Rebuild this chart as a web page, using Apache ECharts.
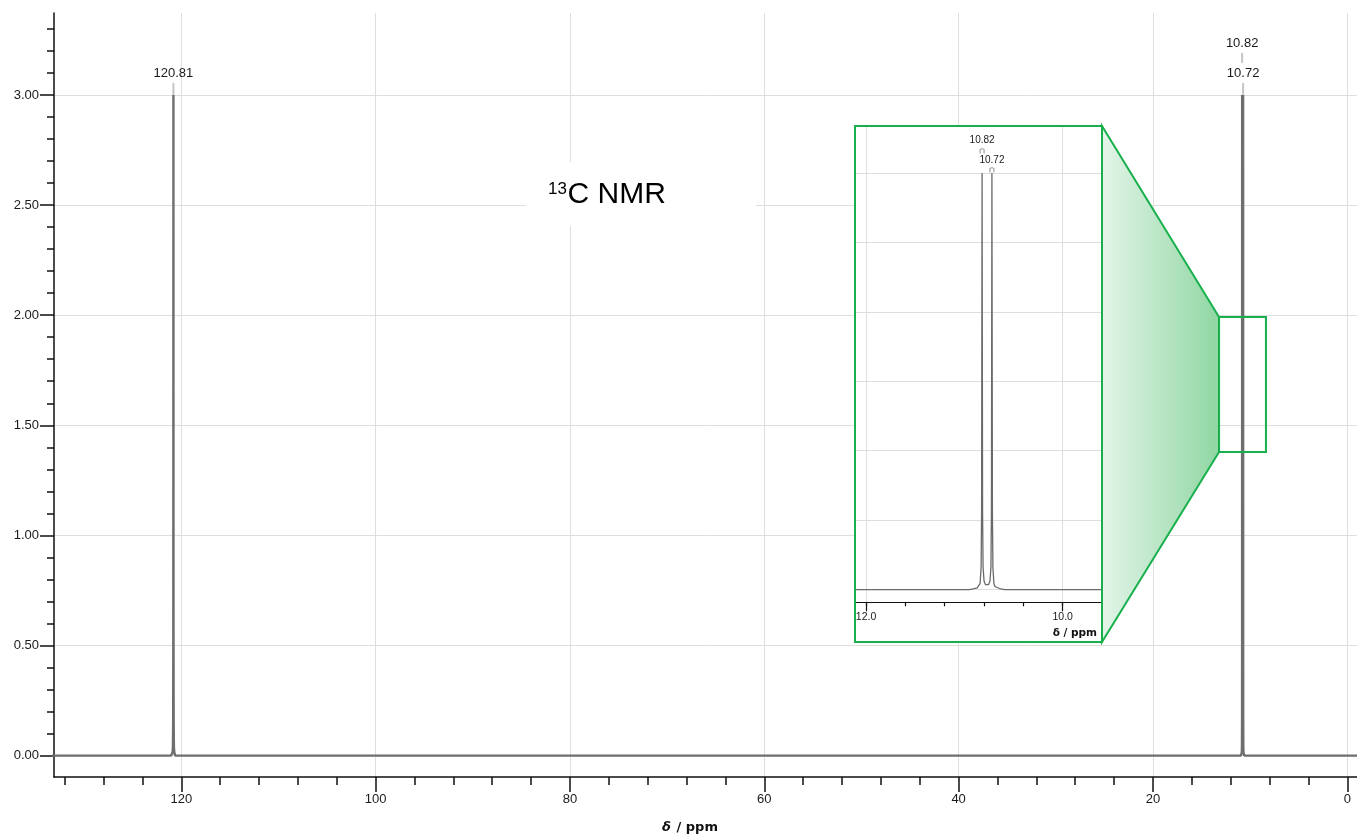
<!DOCTYPE html>
<html><head><meta charset="utf-8">
<script src="https://cdn.jsdelivr.net/npm/echarts@6/dist/echarts.min.js"></script>
<style>html,body{margin:0;padding:0;background:#fff}#c{width:1357px;height:838px}</style>
</head><body><div id="c"></div>
<script>
// ---------------- DATA ----------------
const spectrumPpm = [135, 121.05, 120.95, 120.90, 120.86, 120.835, 120.82, 120.81, 120.80, 120.785, 120.76, 120.72, 120.62,
  10.95, 10.91, 10.87, 10.85, 10.84, 10.83, 10.825, 10.82, 10.815, 10.81, 10.80, 10.785, 10.77, 10.755, 10.74, 10.73,
  10.725, 10.72, 10.715, 10.71, 10.70, 10.69, 10.67, 10.63, 10.59, -2];
const spectrumIntensity = [0, 0, 0.005, 0.015, 0.04, 0.16, 0.55, 3.0, 0.55, 0.16, 0.04, 0.015, 0,
  0, 0.004, 0.012, 0.022, 0.045, 0.16, 0.55, 3.0, 0.55, 0.16, 0.06, 0.035, 0.03, 0.035, 0.06, 0.16,
  0.55, 3.0, 0.55, 0.16, 0.045, 0.022, 0.012, 0.004, 0, 0];
const peakPpm = [120.81, 10.82, 10.72];
const peakIntensity = [3.0, 3.0, 3.0];
const peakLabels = ['120.81', '10.82', '10.72'];
const zoomBoxPpm = [13.2, 8.37];
const zoomBoxIntensity = [1.379, 1.992];
const titleSup = '13';
const titleMain = 'C NMR';
const axisTitleSymbol = 'δ';
const axisTitleUnit = ' / ppm';

// ---------------- LAYOUT ----------------
const W = 1357, H = 838;
const FONT = '"Liberation Sans", Arial, sans-serif';
const GREEN = '#17b04c';
const GRID_C = '#dedede';
const AX_C = '#111';
const main = {left: 54, right: 1357, top: 13, bottom: 777, xMin: -1.0, xMax: 133.1, yMin: -0.097, yMax: 3.372};
const inset = {left: 856, right: 1101, top: 127, bottom: 602.3, xMin: 9.611, xMax: 12.102, yMin: -0.092, yMax: 3.332};
function px(g, v) { return g.right - (v - g.xMin) / (g.xMax - g.xMin) * (g.right - g.left); }
function py(g, v) { return g.bottom - (v - g.yMin) / (g.yMax - g.yMin) * (g.bottom - g.top); }
function gridFor(g, x0, x1, y0, y1) {
  return {left: px(g, x1), right: W - px(g, x0), top: py(g, y1), bottom: H - py(g, y0)};
}
const full = g => ({left: g.left, right: W - g.right, top: g.top, bottom: H - g.bottom});

const grids = [
  full(main),                                        // 0 main series
  gridFor(main, main.xMin, main.xMax, 0, 3),         // 1 y major
  gridFor(main, main.xMin, main.xMax, 0, 3.3),       // 2 y minor
  gridFor(main, 0, 120, main.yMin, main.yMax),       // 3 x major
  gridFor(main, 0, 132, main.yMin, main.yMax),       // 4 x minor
  full(inset),                                       // 5 inset series
  gridFor(inset, 10, 12, inset.yMin, inset.yMax),    // 6 inset x minor
  gridFor(inset, 10, 12, inset.yMin, inset.yMax),    // 7 inset x major
  gridFor(inset, inset.xMin, inset.xMax, 0, 3)       // 8 inset y grid lines
];

const hidden = (i) => ({type: 'value', gridIndex: i, show: false, min: 0, max: 1});
const tickStyle = {color: AX_C, width: 1.5};
const labelStyle = (size, fmt, margin) => ({show: true, fontFamily: FONT, fontSize: size, color: '#1a1a1a', margin: margin, formatter: fmt});

const xAxis = [
  {type: 'value', gridIndex: 0, inverse: true, min: main.xMin, max: main.xMax,
   axisLine: {show: true, onZero: false, lineStyle: {color: AX_C, width: 1.5}}, axisTick: {show: false}, axisLabel: {show: false}, splitLine: {show: false}},
  hidden(1), hidden(2),
  {type: 'value', gridIndex: 3, inverse: true, min: 0, max: 120, interval: 20,
   axisLine: {show: false, onZero: false}, axisTick: {show: true, length: 15, lineStyle: tickStyle},
   axisLabel: labelStyle(13, v => String(Math.round(v)), 16),
   splitLine: {show: true, lineStyle: {color: GRID_C, width: 1}}},
  {type: 'value', gridIndex: 4, inverse: true, min: 0, max: 132, interval: 4,
   axisLine: {show: false, onZero: false}, axisTick: {show: true, length: 8, lineStyle: tickStyle},
   axisLabel: {show: false}, splitLine: {show: false}},
  {type: 'value', gridIndex: 5, inverse: true, min: inset.xMin, max: inset.xMax, z: 10,
   axisLine: {show: true, onZero: false, lineStyle: {color: AX_C, width: 1.2}}, axisTick: {show: false}, axisLabel: {show: false}, splitLine: {show: false}},
  {type: 'value', gridIndex: 6, inverse: true, min: 10, max: 12, interval: 0.4, z: 10,
   axisLine: {show: false, onZero: false}, axisTick: {show: true, length: 4, lineStyle: {color: AX_C, width: 1.2}},
   axisLabel: {show: false}, splitLine: {show: false}},
  {type: 'value', gridIndex: 7, inverse: true, min: 10, max: 12, interval: 2, z: 10,
   axisLine: {show: false, onZero: false}, axisTick: {show: true, length: 9, lineStyle: {color: AX_C, width: 1.2}},
   axisLabel: labelStyle(10.5, v => v.toFixed(1), 9),
   splitLine: {show: true, lineStyle: {color: GRID_C, width: 1}}},
  Object.assign(hidden(8), {z: 10})
];

const yAxis = [
  {type: 'value', gridIndex: 0, min: main.yMin, max: main.yMax,
   axisLine: {show: true, onZero: false, lineStyle: {color: AX_C, width: 1.5}}, axisTick: {show: false}, axisLabel: {show: false}, splitLine: {show: false}},
  {type: 'value', gridIndex: 1, min: 0, max: 3, interval: 0.5,
   axisLine: {show: false}, axisTick: {show: true, length: 14, lineStyle: tickStyle},
   axisLabel: labelStyle(13, v => v.toFixed(2), 15),
   splitLine: {show: true, lineStyle: {color: GRID_C, width: 1}}},
  {type: 'value', gridIndex: 2, min: 0, max: 3.3, interval: 0.1,
   axisLine: {show: false}, axisTick: {show: true, length: 7, lineStyle: tickStyle},
   axisLabel: {show: false}, splitLine: {show: false}},
  hidden(3), hidden(4),
  {type: 'value', gridIndex: 5, min: inset.yMin, max: inset.yMax, show: false},
  hidden(6), hidden(7),
  {type: 'value', gridIndex: 8, min: 0, max: 3, interval: 0.5, z: 10,
   axisLine: {show: false}, axisTick: {show: false}, axisLabel: {show: false},
   splitLine: {show: true, lineStyle: {color: GRID_C, width: 1}}}
];

const spectrum = spectrumPpm.map((x, i) => [x, spectrumIntensity[i]]);

// stacking level of a peak label: number of lower-ppm peaks closer than 1 ppm
function peakItems(filter) {
  const items = [];
  peakPpm.forEach((p, i) => {
    if (!filter(p)) return;
    const level = peakPpm.filter(q => q < p && p - q < 1).length;
    items.push({value: [p, peakIntensity[i], level], name: peakLabels[i]});
  });
  return items;
}

function mainLabels(params, api) {
  const p = api.coord([api.value(0), api.value(1)]);
  const level = api.value(2);
  const name = peakLabels[peakPpm.indexOf(api.value(0))];
  const ty = p[1] - 22 - level * 30;
  const l0 = level ? ty + 10 : p[1] - 12;
  const l1 = level ? ty + 20 : p[1];
  return {type: 'group', children: [
    {type: 'line', shape: {x1: p[0], y1: l0, x2: p[0], y2: l1}, style: {stroke: '#c4c4c4', lineWidth: 2}},
    {type: 'text', style: {text: name, x: p[0], y: ty, align: 'center', verticalAlign: 'middle', font: '13px ' + FONT, fill: '#1a1a1a'}}
  ]};
}
function insetLabels(params, api) {
  const p = api.coord([api.value(0), api.value(1)]);
  const level = api.value(2);
  const name = peakLabels[peakPpm.indexOf(api.value(0))];
  const ty = p[1] - 13 - level * 19.4;
  const fy = p[1] - 5.5 - level * 19;
  return {type: 'group', children: [
    {type: 'polyline', shape: {points: [[p[0] - 2, fy + 5], [p[0] - 2, fy + 1], [p[0], fy], [p[0] + 2, fy + 1], [p[0] + 2, fy + 5]]},
     style: {stroke: '#a0a0a0', lineWidth: 1.2, fill: null}},
    {type: 'text', style: {text: name, x: p[0], y: ty, align: 'center', verticalAlign: 'middle', font: '10px ' + FONT, fill: '#1a1a1a'}}
  ]};
}

const boxL = px(main, zoomBoxPpm[0]), boxT = py(main, zoomBoxIntensity[1]), boxB = py(main, zoomBoxIntensity[0]);
const insetBox = {x: 855, y: 126, w: 247, h: 516};

const option = {
  animation: false,
  backgroundColor: '#fff',
  grid: grids.map(g => Object.assign({containLabel: false}, g)),
  xAxis: xAxis,
  yAxis: yAxis,
  series: [
    {type: 'line', xAxisIndex: 0, yAxisIndex: 0, data: spectrum, symbol: 'none', z: 2, silent: true,
     lineStyle: {color: '#6e6e6e', width: 2.4},
     markArea: {silent: true, z: 20, itemStyle: {color: 'rgba(0,0,0,0)', borderColor: GREEN, borderWidth: 2},
       data: [[{xAxis: zoomBoxPpm[0], yAxis: zoomBoxIntensity[1]}, {xAxis: zoomBoxPpm[1], yAxis: zoomBoxIntensity[0]}]]}},
    {type: 'custom', xAxisIndex: 0, yAxisIndex: 0, z: 3, silent: true, renderItem: mainLabels,
     data: peakItems(() => true)},
    {type: 'line', xAxisIndex: 5, yAxisIndex: 5, data: spectrum, symbol: 'none', z: 12, silent: true, clip: true,
     lineStyle: {color: '#6a6a6a', width: 1.3}},
    {type: 'custom', xAxisIndex: 5, yAxisIndex: 5, z: 13, silent: true, renderItem: insetLabels,
     data: peakItems(p => p > inset.xMin && p < inset.xMax)}
  ],
  graphic: [
    {type: 'rect', z: 5, shape: {x: 526, y: 162, width: 230, height: 64}, style: {fill: '#fff'}},
    {type: 'text', z: 6, style: {text: titleSup, x: 548, y: 189, verticalAlign: 'middle', font: '17px ' + FONT, fill: '#000'}},
    {type: 'text', z: 6, style: {text: titleMain, x: 567.5, y: 195, verticalAlign: 'middle', font: '30px ' + FONT, fill: '#000'}},
    {type: 'rect', z: 5, shape: {x: insetBox.x, y: insetBox.y, width: insetBox.w, height: insetBox.h}, style: {fill: '#fff'}},
    {type: 'polygon', z: 5,
     shape: {points: [[insetBox.x + insetBox.w, insetBox.y], [boxL, boxT], [boxL, boxB], [insetBox.x + insetBox.w, insetBox.y + insetBox.h]]},
     style: {stroke: GREEN, lineWidth: 2,
       fill: {type: 'linear', x: 0, y: 0, x2: 1, y2: 0, colorStops: [{offset: 0, color: '#e4f5e9'}, {offset: 1, color: '#8fd6a2'}]}}},
    {type: 'rect', z: 20, shape: {x: insetBox.x, y: insetBox.y, width: insetBox.w, height: insetBox.h}, style: {fill: null, stroke: GREEN, lineWidth: 2}},
    {type: 'text', z: 20, style: {text: axisTitleSymbol, x: 662, y: 828, verticalAlign: 'middle', font: 'italic bold 13px "DejaVu Sans"', fill: '#111'}},
    {type: 'text', z: 20, style: {text: axisTitleUnit, x: 672, y: 828, verticalAlign: 'middle', font: 'bold 13px "DejaVu Sans"', fill: '#111'}},
    {type: 'text', z: 20, style: {text: axisTitleSymbol + axisTitleUnit, x: 1097, y: 633, align: 'right', verticalAlign: 'middle', font: 'bold 10.5px "DejaVu Sans"', fill: '#111'}}
  ]
};
const chart = echarts.init(document.getElementById('c'), null, {renderer: 'canvas'});
chart.setOption(option);
</script></body></html>
